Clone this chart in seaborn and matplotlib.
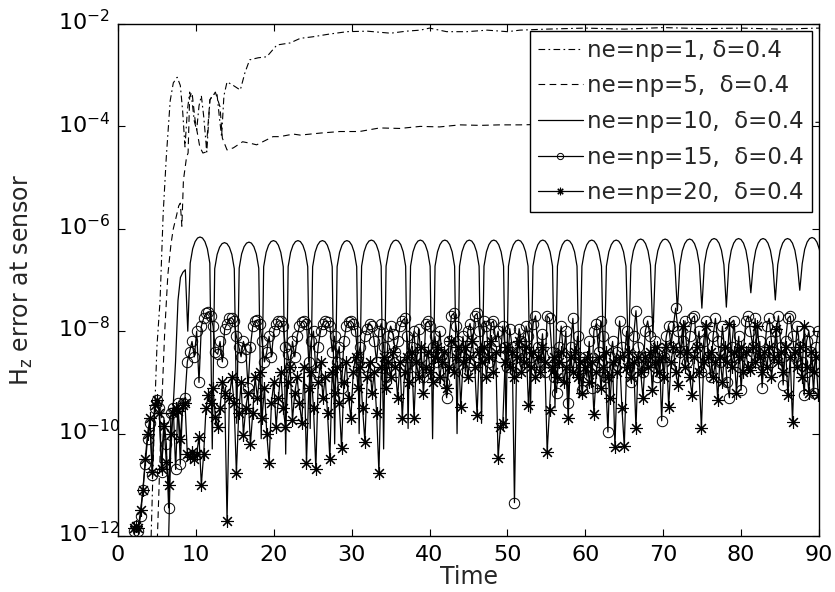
import numpy as np
import matplotlib
matplotlib.use("Agg")
import matplotlib.pyplot as plt
import matplotlib.transforms as mtransforms
import seaborn as sns
from matplotlib.ticker import LogFormatterMathtext, NullLocator

# log10 of the Hz error

# ne=np=1 (dash-dot)
t_ne1 = [4.2, 4.7, 5.0, 5.4, 5.8, 6.2, 6.7, 7.1, 7.6, 8.0, 8.3, 8.6, 8.9, 9.2,
         9.5, 9.8, 10.1, 10.4, 10.7, 11.0, 11.4, 11.8, 12.2, 12.7, 13.0, 13.3,
         13.6, 14.0, 14.8, 15.7, 16.3, 16.9, 18.0, 19.1, 20.4, 22.1, 23.4, 25.0,
         27.0, 29.4, 32.0, 35.0, 37.0, 38.8, 40.0, 42.2, 44.8, 47.4, 50.0, 51.6,
         55.0, 60.0, 65.0, 70.0, 75.0, 80.0, 85.0, 90.0]
h_ne1 = [-12.3, -9.6, -8.3, -7.4, -5.7, -4.6, -3.5, -3.15, -3.04, -3.2, -3.7,
         -4.4, -3.7, -3.33, -3.5, -3.9, -4.07, -3.6, -3.4, -3.8, -4.5, -3.48,
         -3.38, -3.35, -3.8, -4.2, -3.4, -3.13, -3.2, -3.29, -2.95, -2.70, -2.66,
         -2.64, -2.41, -2.37, -2.28, -2.25, -2.2, -2.15, -2.14, -2.18, -2.14,
         -2.12, -2.08, -2.15, -2.15, -2.12, -2.15, -2.12, -2.1, -2.08, -2.1,
         -2.07, -2.09, -2.08, -2.1, -2.08]

# ne=np=5 (dashed)
t_ne5 = [5.0, 5.6, 6.0, 6.4, 6.8, 7.1, 7.5, 7.8, 8.0, 8.2, 8.4, 8.8, 9.0, 9.2,
         9.5, 9.9, 10.5, 10.9, 11.3, 11.8, 12.5, 13.1, 13.4, 14.0, 14.8, 16.0,
         17.0, 17.8, 19.9, 20.8, 22.5, 23.4, 26.0, 28.5, 31.0, 33.6, 36.2, 38.8,
         41.3, 43.9, 46.5, 49.0, 51.6, 55.0, 60.0, 65.0, 70.0, 75.0, 80.0, 85.0,
         90.0]
h_ne5 = [-12.3, -9.5, -8.0, -6.9, -6.3, -6.0, -5.75, -5.55, -5.5, -5.95, -5.05,
         -4.6, -4.52, -3.42, -3.33, -3.88, -4.4, -4.52, -4.5, -3.48, -3.33,
         -3.62, -4.23, -4.46, -4.42, -4.3, -4.33, -4.36, -4.2, -4.2, -4.15,
         -4.17, -4.13, -4.1, -4.1, -4.03, -4.04, -4.0, -4.01, -3.97, -3.98,
         -3.97, -3.97, -3.96, -3.95, -3.95, -3.94, -3.94, -3.93, -3.93, -3.92]

# ne=np=10 (solid), sampled every 0.3143 from t=6.13, one row per arch
h_ne10_start = [-12.6, -12.4, -10.4, -9.5, -8.6, -7.4, -6.95, -6.85, -6.8]
h_ne10_arches = [
    [-8.0, -6.67, -6.39, -6.25, -6.18, -6.16, -6.18, -6.25, -6.39, -6.67],
    [-10.3, -6.78, -6.50, -6.36, -6.29, -6.27, -6.29, -6.36, -6.50, -6.78],
    [-9.8, -6.77, -6.49, -6.35, -6.28, -6.26, -6.28, -6.35, -6.49, -6.77],
    [-10.1, -6.74, -6.46, -6.32, -6.25, -6.23, -6.25, -6.32, -6.46, -6.74],
    [-10.4, -6.74, -6.46, -6.32, -6.25, -6.23, -6.25, -6.32, -6.46, -6.74],
    [-9.9, -6.74, -6.46, -6.32, -6.25, -6.23, -6.25, -6.32, -6.46, -6.74],
    [-10.2, -6.74, -6.46, -6.32, -6.25, -6.23, -6.25, -6.32, -6.46, -6.74],
    [-10.0, -6.73, -6.45, -6.31, -6.24, -6.22, -6.24, -6.31, -6.45, -6.73],
    [-10.3, -6.73, -6.45, -6.31, -6.24, -6.22, -6.24, -6.31, -6.45, -6.73],
    [-9.9, -6.73, -6.45, -6.31, -6.24, -6.22, -6.24, -6.31, -6.45, -6.73],
    [-10.1, -6.73, -6.45, -6.31, -6.24, -6.22, -6.24, -6.31, -6.45, -6.73],
    [-10.0, -6.73, -6.45, -6.31, -6.24, -6.22, -6.24, -6.31, -6.45, -6.73],
    [-9.8, -6.73, -6.45, -6.31, -6.24, -6.22, -6.24, -6.31, -6.45, -6.73],
    [-9.9, -6.73, -6.45, -6.31, -6.24, -6.22, -6.24, -6.31, -6.45, -6.73],
    [-9.6, -6.73, -6.45, -6.31, -6.24, -6.22, -6.24, -6.31, -6.45, -6.73],
    [-9.5, -6.73, -6.45, -6.31, -6.24, -6.22, -6.24, -6.31, -6.45, -6.73],
    [-9.3, -6.73, -6.45, -6.31, -6.24, -6.22, -6.24, -6.31, -6.45, -6.73],
    [-9.0, -6.73, -6.45, -6.31, -6.24, -6.22, -6.24, -6.31, -6.45, -6.73],
    [-8.6, -6.71, -6.43, -6.29, -6.22, -6.20, -6.22, -6.29, -6.43, -6.71],
    [-8.1, -6.71, -6.43, -6.29, -6.22, -6.20, -6.22, -6.29, -6.43, -6.71],
    [-7.6, -6.71, -6.43, -6.29, -6.22, -6.20, -6.22, -6.29, -6.43, -6.71],
    [-7.55, -6.70, -6.42, -6.28, -6.21, -6.19, -6.21, -6.28, -6.42, -6.70],
    [-7.53, -6.70, -6.42, -6.28, -6.21, -6.19, -6.21, -6.28, -6.42, -6.70],
    [-7.25, -6.70, -6.42, -6.28, -6.21, -6.19, -6.21, -6.28, -6.42, -6.70],
    [-7.39, -6.70, -6.42, -6.28, -6.21, -6.19, -6.21, -6.28, -6.42, -6.70],
    [-7.2, -6.68, -6.40, -6.26, -6.19, -6.17, -6.19, -6.26, -6.40, -6.68],
    [-7.3],
]

# ne=np=15 (circles) and ne=np=20 (stars), sampled every 0.3 from t=2.0
h_ne15 = [
    -11.9, -11.8, -11.9, -11.6, -11.1, -10.6, -10.1, -9.8, -10.8, -9.5,
    -9.35, -9.5, -10.75, -9.7, -10.2, -11.45, -9.6, -9.5, -10.7, -9.4,
    -10.6, -9.4, -9.3, -8.6, -8.4, -8.2, -8.5, -8.0, -9.0, -7.9,
    -7.75, -7.65, -7.62, -7.7, -7.9, -8.4, -8.45, -8.2, -8.6, -7.95,
    -7.85, -7.75, -7.74, -7.8, -8.1, -8.3, -8.5, -8.2, -8.35, -9.1,
    -8.3, -7.9, -7.8, -7.78, -7.85, -8.2, -8.6, -8.4, -8.1, -8.5,
    -8.0, -7.85, -7.8, -7.8, -7.9, -8.3, -8.45, -8.7, -8.2, -8.5,
    -8.1, -7.9, -7.82, -7.8, -7.85, -8.6, -8.2, -8.0, -8.8, -8.3,
    -8.0, -7.85, -7.8, -7.82, -7.9, -8.4, -8.1, -8.6, -8.3, -9.1,
    -8.2, -7.9, -7.82, -7.8, -7.85, -8.0, -8.5, -8.3, -8.7, -8.1,
    -7.95, -7.85, -7.9, -8.2, -8.6, -8.0, -7.85, -8.3, -8.9, -8.1,
    -7.9, -8.05, -8.4, -8.2, -7.9, -7.8, -7.75, -8.1, -8.5, -8.3,
    -8.0, -8.7, -7.95, -8.5, -8.9, -7.85, -7.8, -7.9, -8.3, -8.1,
    -8.6, -8.0, -8.45, -9.0, -9.3, -8.2, -7.7, -7.65, -7.9, -8.2,
    -8.5, -8.1, -8.8, -8.0, -7.85, -8.3, -7.7, -7.65, -8.0, -8.4,
    -7.8, -7.9, -8.6, -7.85, -7.8, -8.2, -8.0, -8.5, -7.9, -8.3,
    -8.7, -7.95, -8.3, -11.35, -8.4, -7.95, -8.2, -8.6, -7.9, -8.1,
    -8.5, -7.85, -7.7, -8.3, -8.6, -8.05, -8.8, -7.7, -7.75, -8.4,
    -8.9, -9.2, -8.3, -7.9, -8.5, -8.0, -9.4, -8.3, -7.75, -8.6,
    -8.1, -8.8, -9.15, -8.5, -8.9, -8.2, -9.1, -8.0, -7.85, -8.4,
    -7.8, -8.1, -8.9, -9.97, -8.5, -8.2, -8.7, -8.4, -7.8, -8.3,
    -8.6, -8.0, -8.7, -9.0, -8.1, -7.6, -8.3, -8.5, -8.8, -8.0,
    -7.8, -8.1, -8.6, -8.2, -8.9, -8.4, -9.75, -8.5, -8.1, -7.9,
    -8.3, -7.9, -7.55, -8.0, -8.4, -8.2, -7.8, -8.6, -8.1, -7.75,
    -7.7, -8.3, -8.0, -8.8, -8.2, -7.8, -8.5, -8.9, -8.1, -7.75,
    -8.2, -8.6, -7.9, -8.4, -9.0, -9.3, -8.3, -7.8, -8.5, -8.1,
    -9.15, -8.4, -7.8, -7.7, -8.0, -8.3, -7.75, -8.6, -8.2, -9.1,
    -8.4, -7.9, -7.75, -8.2, -8.5, -8.0, -7.7, -8.3, -9.05, -8.2,
    -7.75, -7.7, -8.1, -8.5, -7.9, -8.3, -8.6, -9.25, -8.2, -8.0,
    -8.4, -9.2, -8.3, -8.0,
]
h_ne20 = [
    -11.85, -11.8, -11.85, -11.5, -11.1, -10.5, -10.0, -9.7, -10.75, -9.45,
    -9.35, -9.6, -10.7, -9.85, -10.55, -11.0, -10.0, -9.6, -9.5, -9.55,
    -10.1, -9.45, -9.4, -10.4, -10.45, -10.35, -10.5, -10.4, -10.06, -11.0,
    -10.4, -9.5, -9.25, -9.4, -9.1, -9.68, -9.87, -9.5, -9.0, -9.2,
    -11.7, -9.3, -8.9, -9.4, -10.77, -9.6, -9.0, -10.03, -9.5, -9.2,
    -10.2, -9.6, -8.9, -9.3, -8.8, -9.7, -9.1, -10.0, -10.57, -9.4,
    -9.0, -9.87, -9.3, -8.8, -9.5, -9.87, -9.0, -8.7, -9.73, -9.2,
    -8.9, -9.4, -9.8, -8.7, -10.57, -9.1, -8.8, -9.5, -10.7, -9.0,
    -8.6, -9.3, -8.9, -9.6, -10.5, -8.8, -9.2, -8.7, -9.4, -10.28,
    -9.0, -8.6, -9.3, -9.7, -8.8, -8.5, -9.1, -8.7, -9.5, -10.16,
    -8.9, -8.6, -9.2, -8.8, -9.6, -10.77, -8.7, -8.5, -9.1, -8.6,
    -8.9, -8.4, -8.7, -9.3, -8.6, -9.7, -8.8, -8.5, -9.0, -8.4,
    -9.7, -8.6, -8.9, -8.3, -9.2, -8.7, -8.4, -8.8, -9.0, -8.5,
    -8.3, -8.9, -8.6, -8.4, -9.1, -8.7, -8.2, -8.8, -8.5, -8.3,
    -9.48, -8.6, -8.3, -8.9, -8.5, -8.2, -8.7, -9.64, -8.4, -8.6,
    -8.3, -8.9, -8.5, -8.2, -8.8, -8.4, -10.48, -9.87, -9.8, -8.6,
    -8.3, -8.7, -8.4, -8.9, -8.5, -8.2, -8.8, -8.6, -8.3, -9.44,
    -8.7, -8.4, -8.9, -8.5, -8.8, -8.3, -8.6, -10.36, -9.54, -8.7,
    -8.5, -8.9, -8.6, -8.4, -9.0, -8.7, -9.7, -8.5, -8.8, -8.4,
    -8.9, -8.6, -9.2, -8.7, -8.5, -9.0, -8.6, -9.62, -8.8, -8.5,
    -9.1, -8.7, -8.4, -8.9, -9.3, -8.6, -10.27, -8.8, -8.5, -9.5,
    -10.25, -8.7, -8.4, -8.9, -8.6, -9.9, -8.5, -8.8, -9.3, -8.5,
    -8.7, -8.4, -9.15, -8.6, -8.3, -8.8, -8.5, -8.9, -8.3, -9.48,
    -8.6, -8.3, -8.8, -9.05, -8.4, -7.9, -8.7, -8.4, -8.9, -9.25,
    -8.5, -8.3, -8.8, -9.9, -8.6, -7.9, -8.5, -8.4, -8.9, -8.6,
    -9.34, -8.5, -9.0, -8.3, -8.6, -7.85, -8.7, -8.4, -9.2, -8.5,
    -8.3, -8.8, -8.4, -8.7, -8.76, -8.3, -8.6, -7.9, -8.5, -8.8,
    -8.4, -8.7, -8.3, -8.9, -8.5, -7.95, -8.6, -8.4, -8.8, -8.3,
    -9.25, -8.5, -9.77, -8.4, -8.7, -8.3, -8.9, -7.9, -8.7, -9.2,
    -8.4, -8.8, -8.5, -9.25,
]

labels = ["ne=np=1, δ=0.4", "ne=np=5,  δ=0.4", "ne=np=10,  δ=0.4",
          "ne=np=15,  δ=0.4", "ne=np=20,  δ=0.4"]
x_ticks = [0, 10, 20, 30, 40, 50, 60, 70, 80, 90]
y_ticks = [1e-12, 1e-10, 1e-8, 1e-6, 1e-4, 1e-2]

h_ne10 = np.concatenate([h_ne10_start] + [np.array(r) for r in h_ne10_arches])
t_ne10 = 6.13 + 0.3143 * np.arange(len(h_ne10))
t_ne15 = 2.0 + 0.3 * np.arange(len(h_ne15))
t_ne20 = 2.0 + 0.3 * np.arange(len(h_ne20))

sns.set_style("ticks", {"xtick.direction": "in", "ytick.direction": "in"})
plt.rcParams["font.family"] = ["DejaVu Sans"]
plt.rcParams["mathtext.fontset"] = "dejavusans"

fig = plt.figure(figsize=(8.35, 5.92), dpi=100)
ax = fig.add_axes([118 / 835, 56 / 592, 701 / 835, 512 / 592])
ax.set_yscale("log")

common = dict(ax=ax, color="k", estimator=None, errorbar=None, legend=False)
sns.lineplot(x=t_ne1, y=10 ** np.array(h_ne1), linewidth=0.8,
             linestyle=(0, (6, 3, 1.5, 3)), label=labels[0], **common)
sns.lineplot(x=t_ne5, y=10 ** np.array(h_ne5), linewidth=0.8,
             linestyle=(0, (6, 4)), label=labels[1], **common)
sns.lineplot(x=t_ne10, y=10 ** h_ne10, linewidth=0.9, label=labels[2], **common)
sns.lineplot(x=t_ne15, y=10 ** np.array(h_ne15), linewidth=0.9, marker="o",
             markersize=7.5, markerfacecolor="none", markeredgecolor="k",
             markeredgewidth=0.7, label=labels[3], **common)
sns.lineplot(x=t_ne20, y=10 ** np.array(h_ne20), linewidth=0.9, marker=(8, 2, 0),
             markersize=9, markeredgecolor="k", markeredgewidth=0.8,
             label=labels[4], **common)

ax.set_xlim(0, 90)
ax.set_ylim(1e-12, 1e-2)
ax.set_xticks(x_ticks)
ax.set_yticks(y_ticks)
ax.yaxis.set_minor_locator(NullLocator())
ax.yaxis.set_major_formatter(LogFormatterMathtext())
ax.tick_params(which="both", direction="in", top=True, right=True,
               length=5, width=0.8, labelsize=16, colors="k")
ax.tick_params(axis="x", pad=6.5)
ax.tick_params(axis="y", pad=43)
for s in ax.spines.values():
    s.set_visible(True)
    s.set_linewidth(1.0)
    s.set_color("k")

# MATLAB style: the "10" of every label sits on its tick, exponents hang right
shift = mtransforms.ScaledTranslation(0, -0.065, fig.dpi_scale_trans)
for lbl in ax.get_yticklabels():
    lbl.set_horizontalalignment("left")
    lbl.set_verticalalignment("baseline")
    lbl.set_transform(lbl.get_transform() + shift)

ax.set_xlabel("Time", fontsize=17, labelpad=0)
ax.set_ylabel(r"$\mathregular{H_z}$ error at sensor", fontsize=17)
ax.yaxis.set_label_coords(-0.118, 0.5)

leg = ax.legend(loc="upper right", fontsize=16.5, frameon=True, fancybox=False,
                edgecolor="k", framealpha=1, borderaxespad=0.3,
                handlelength=1.95, handletextpad=0.2, labelspacing=0.55,
                borderpad=0.35, markerscale=0.6)
leg.get_frame().set_linewidth(1.0)

fig.savefig("out.png", dpi=100)
